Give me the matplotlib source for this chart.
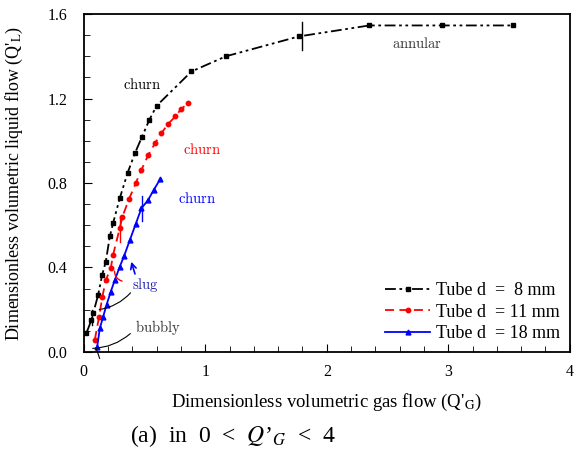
import numpy as np
import matplotlib
matplotlib.use("Agg")
from matplotlib import pyplot as plt
from matplotlib.ticker import MultipleLocator, FormatStrFormatter

plt.rcParams['font.family'] = ['Liberation Serif', 'DejaVu Serif']
plt.rcParams['mathtext.fontset'] = 'stix'

# tube d = 8 mm
x8 = [0.022, 0.063, 0.077, 0.118, 0.151, 0.181, 0.214, 0.241, 0.296, 0.36,
      0.42, 0.477, 0.54, 0.60, 0.886, 1.17, 1.77, 2.35, 2.95, 3.53]
y8 = [0.09, 0.152, 0.183, 0.27, 0.365, 0.428, 0.547, 0.61, 0.728, 0.847,
      0.94, 1.016, 1.10, 1.166, 1.328, 1.40, 1.494, 1.546, 1.546, 1.546]
# tube d = 11 mm
x11 = [0.09, 0.126, 0.153, 0.181, 0.222, 0.241, 0.296, 0.318, 0.373, 0.428,
       0.474, 0.53, 0.587, 0.639, 0.694, 0.754, 0.80, 0.86]
y11 = [0.057, 0.167, 0.262, 0.34, 0.397, 0.46, 0.586, 0.641, 0.725, 0.80,
       0.862, 0.932, 0.989, 1.036, 1.08, 1.115, 1.15, 1.178]
# tube d = 18 mm
x18 = [0.11, 0.132, 0.159, 0.187, 0.222, 0.255, 0.296, 0.332, 0.379, 0.428,
       0.474, 0.53, 0.576, 0.631]
y18 = [0.025, 0.112, 0.167, 0.223, 0.286, 0.34, 0.404, 0.455, 0.53, 0.607,
       0.68, 0.72, 0.768, 0.82]

labels = ['Tube d  =  8 mm', 'Tube d  = 11 mm', 'Tube d  = 18 mm']

fig = plt.figure(figsize=(5.82, 4.53), dpi=100)
ax = fig.add_axes([0.144, 0.223, 0.835, 0.746])

ax.plot(x8, y8, color='black', lw=1.3, dashes=(6, 2, 1.5, 2, 1.5, 2),
        marker='s', ms=3, label=labels[0])
ax.plot(x11, y11, color='red', lw=1.3, dashes=(5, 3),
        marker='o', ms=3.2, label=labels[1])
ax.plot(x18, y18, color='blue', lw=1.3, marker='^', ms=3.5, label=labels[2])

# transition marks
ax.plot([1.8, 1.8], [1.43, 1.56], color='black', lw=1)
ax.plot([0.48, 0.48], [0.62, 0.74], color='blue', lw=1)
ax.plot([0.30, 0.30], [0.52, 0.64], color='red', lw=1)
ax.plot([0.07, 0.07], [0.13, 0.2], color='black', lw=1)

ax.set_xlim(0, 4)
ax.set_ylim(0, 1.6)
ax.xaxis.set_major_locator(MultipleLocator(1))
ax.xaxis.set_minor_locator(MultipleLocator(0.2))
ax.yaxis.set_major_locator(MultipleLocator(0.4))
ax.yaxis.set_minor_locator(MultipleLocator(0.1))
ax.yaxis.set_major_formatter(FormatStrFormatter('%.1f'))
ax.tick_params(which='both', direction='in', labelsize=11.5)
ax.tick_params(which='major', length=6)
ax.tick_params(which='minor', length=4)
ax.tick_params(axis='y', which='major', pad=12)
ax.tick_params(axis='x', which='major', pad=9)
for s in ax.spines.values():
    s.set_linewidth(1.3)

ax.set_xlabel("Dimensionless volumetric gas flow (Q'$_{\\mathrm{G}}$)", fontsize=13.5, labelpad=8)
ax.set_ylabel("Dimensionless volumetric liquid flow (Q'$_{\\mathrm{L}}$)", fontsize=13)
ax.yaxis.set_label_coords(-0.12, 0.5)

# flow regime labels
kw = dict(fontsize=10.5, math_fontfamily='cm', va='center')
ax.text(0.32, 1.265, r'$\mathrm{churn}$', color='black', **kw)
ax.text(0.815, 0.957, r'$\mathrm{churn}$', color='red', **kw)
ax.text(0.774, 0.725, r'$\mathrm{churn}$', color='blue', **kw)
ax.text(0.395, 0.318, r'$\mathrm{slug}$', color='#2020b0', **kw)
ax.text(0.42, 0.114, r'$\mathrm{bubbly}$', color='#333333', **kw)
ax.text(2.535, 1.46, r'$\mathrm{annular}$', color='#333333', **kw)

ax.annotate('', xy=(0.384, 0.44), xytext=(0.428, 0.357),
            arrowprops=dict(arrowstyle='->', color='blue', lw=1.2))
ax.annotate('', xy=(0.255, 0.396), xytext=(0.337, 0.333),
            arrowprops=dict(arrowstyle='-', color='red', lw=1,
                            connectionstyle='arc3,rad=-0.5'))
ax.annotate('', xy=(0.104, 0.199), xytext=(0.40, 0.29),
            arrowprops=dict(arrowstyle='-', color='black', lw=0.8,
                            connectionstyle='arc3,rad=-0.2'))
ax.annotate('', xy=(0.05, 0.017), xytext=(0.40, 0.096),
            arrowprops=dict(arrowstyle='-', color='black', lw=0.8,
                            connectionstyle='arc3,rad=-0.2'))
ax.plot([0.1, 0.13], [0.02, -0.03], color='black', lw=0.8, clip_on=False)

leg = ax.legend(loc='lower right', frameon=False, fontsize=13,
                handlelength=2.5, handletextpad=0.3, labelspacing=0.25,
                borderaxespad=0.15)

fig.text(0.223, 0.025, "(a)  in  0  <  $Q$\u2019$_G$  <  4", ha='left', fontsize=17)

fig.savefig('out.png', dpi=100)
